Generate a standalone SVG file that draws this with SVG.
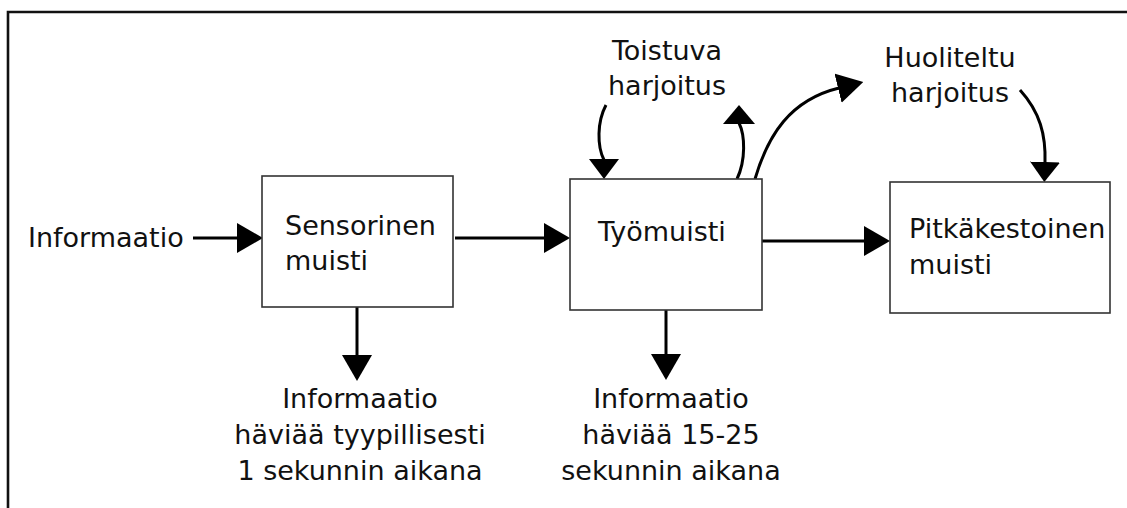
<svg xmlns="http://www.w3.org/2000/svg" width="1127" height="508" viewBox="0 0 1127 508">
<defs>
<style>
text{font-family:"DejaVu Sans","Verdana",sans-serif;font-size:27px;fill:#111}
.box{fill:#fff;stroke:#333;stroke-width:1.6}
.c{fill:none;stroke:#000;stroke-width:3}
.m{text-anchor:middle}
</style>
<marker id="ah" viewBox="-1 -15 26 30" refX="0" refY="0" markerWidth="26" markerHeight="30" markerUnits="userSpaceOnUse" orient="auto">
<path d="M-1,-15 L25,0 L-1,15 z" fill="#000"/>
</marker>
<marker id="as" viewBox="-1 -15 20 30" refX="0" refY="0" markerWidth="20" markerHeight="30" markerUnits="userSpaceOnUse" orient="auto">
<path d="M-1,-15 L19,0 L-1,15 z" fill="#000"/>
</marker>
<marker id="adown" viewBox="-1 -15 20 30" refX="0" refY="0" markerWidth="20" markerHeight="30" markerUnits="userSpaceOnUse" orient="90">
<path d="M-1,-15 L19,0 L-1,15 z" fill="#000"/>
</marker>
<marker id="aup" viewBox="-1 -16 20 32" refX="0" refY="0" markerWidth="20" markerHeight="32" markerUnits="userSpaceOnUse" orient="-90">
<path d="M-1,-16 L18,0 L-1,16 z" fill="#000"/>
</marker>
</defs>
<rect width="1127" height="508" fill="#fff"/>
<path d="M8,508 V12 H1127" fill="none" stroke="#111" stroke-width="2.6"/>

<g id="connectors">
<path class="c" d="M193,238 L238,238" marker-end="url(#ah)"/>
<path class="c" d="M455,238 L545,238" marker-end="url(#ah)"/>
<path class="c" d="M762,241 L865,241" marker-end="url(#ah)"/>
<path class="c" d="M357,307 L357,356" marker-end="url(#ah)"/>
<path class="c" d="M666,310 L666,355" marker-end="url(#ah)"/>
<path class="c" d="M606,105 C597,122 597,146 604,160" marker-end="url(#adown)"/>
<path class="c" d="M737,179 C746,160 745,135 739,123" marker-end="url(#aup)"/>
<path class="c" d="M755,179 C768,135 790,100 839,88" marker-end="url(#ah)"/>
<path class="c" d="M1020,90 C1040,112 1046,135 1045,163" marker-end="url(#as)"/>
</g>

<g id="informaatio-in"><text x="28" y="247">Informaatio</text></g>
<g id="sensorinen"><rect class="box" x="262" y="176" width="191" height="131"/><text x="285" y="235">Sensorinen</text><text x="285" y="270">muisti</text></g>
<g id="tyomuisti"><rect class="box" x="570" y="179" width="192" height="131"/><text x="598" y="241">Työmuisti</text></g>
<g id="pitkakestoinen"><rect class="box" x="890" y="182" width="220" height="131"/><text x="909" y="238">Pitkäkestoinen</text><text x="909" y="274">muisti</text></g>
<g id="toistuva"><text class="m" x="667" y="60">Toistuva</text><text class="m" x="667" y="95">harjoitus</text></g>
<g id="huoliteltu"><text class="m" x="950" y="67">Huoliteltu</text><text class="m" x="950" y="102">harjoitus</text></g>
<g id="loss-sensory"><text class="m" x="360" y="408">Informaatio</text><text class="m" x="360" y="444">häviää tyypillisesti</text><text class="m" x="360" y="480">1 sekunnin aikana</text></g>
<g id="loss-working"><text class="m" x="671" y="408">Informaatio</text><text class="m" x="671" y="444">häviää 15-25</text><text class="m" x="671" y="480">sekunnin aikana</text></g>
</svg>
